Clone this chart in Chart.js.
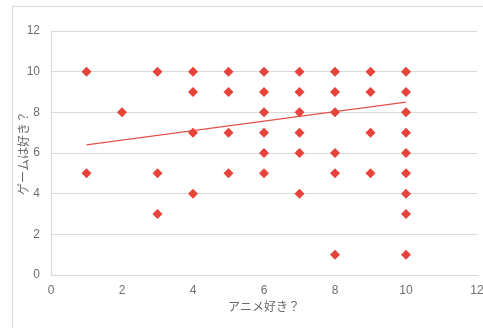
<!DOCTYPE html>
<html>
<head>
<meta charset="utf-8">
<script src="https://cdn.jsdelivr.net/npm/chart.js@4/dist/chart.umd.min.js"></script>
<style>
  html, body { margin: 0; padding: 0; background: #ffffff; }
  #wrap { position: relative; width: 483px; height: 328px; overflow: hidden; }
  #frame { position: absolute; left: 12px; top: 6px; width: 500px; height: 340px;
           border: 1px solid #d9d9d9; box-sizing: border-box; }
  #chart { position: absolute; left: 0; top: 0; }
</style>
</head>
<body>
<div id="wrap">
  <div id="frame"></div>
  <canvas id="chart" width="483" height="328"></canvas>
</div>
<script>
// Survey answers: how much each respondent likes anime (x) and games (y)
const animeScores = [1, 1, 2, 3, 3, 3, 4, 4, 4, 4, 5, 5, 5, 5,
                     6, 6, 6, 6, 6, 6, 7, 7, 7, 7, 7, 7,
                     8, 8, 8, 8, 8, 8, 9, 9, 9, 9,
                     10, 10, 10, 10, 10, 10, 10, 10, 10];
const gameScores  = [10, 5, 8, 10, 5, 3, 10, 9, 7, 4, 10, 9, 7, 5,
                     10, 9, 8, 7, 6, 5, 10, 9, 8, 7, 6, 4,
                     10, 9, 8, 6, 5, 1, 10, 9, 7, 5,
                     10, 9, 8, 7, 6, 5, 4, 3, 1];

// Linear trend line end points
const trendX = [1, 10];
const trendY = [6.4, 8.5];

const xTicks = [0, 2, 4, 6, 8, 10, 12];
const yTicks = [0, 2, 4, 6, 8, 10, 12];

const xTitle = 'アニメ好き？';
const yTitle = 'ゲームは好き？';

const points = animeScores.map((x, i) => ({ x: x, y: gameScores[i] }));
const trend = trendX.map((x, i) => ({ x: x, y: trendY[i] }));

const FONT = "'Liberation Sans', 'Noto Sans CJK JP', sans-serif";
const RED = '#e8433a';

new Chart(document.getElementById('chart'), {
  type: 'scatter',
  data: {
    datasets: [
      {
        data: points,
        pointStyle: 'rectRot',
        pointRadius: 5,
        pointHoverRadius: 5,
        backgroundColor: RED,
        borderColor: RED,
        borderWidth: 0,
        order: 1
      },
      {
        type: 'line',
        data: trend,
        borderColor: '#e3524a',
        borderWidth: 1.3,
        pointRadius: 0,
        fill: false,
        tension: 0,
        order: 2
      }
    ]
  },
  options: {
    responsive: false,
    animation: false,
    devicePixelRatio: 1,
    layout: { padding: { left: 12, top: 31, right: 6, bottom: 0 } },
    plugins: { legend: { display: false }, tooltip: { enabled: false } },
    scales: {
      x: {
        type: 'linear',
        min: 0, max: 12,
        afterBuildTicks: (s) => { s.ticks = xTicks.map(v => ({ value: v })); },
        afterFit: (s) => { s.height = 53; s.paddingLeft = 0; s.paddingRight = 0; },
        grid: { display: false, drawTicks: false },
        border: { display: true, color: '#d9d9d9', width: 1 },
        ticks: { padding: 8, color: '#6f6f6f', font: { family: FONT, size: 12 }, maxRotation: 0 },
        title: { display: true, text: xTitle, color: '#6a6a6a',
                 font: { family: FONT, size: 12 }, padding: { top: 0, bottom: 13 } }
      },
      y: {
        type: 'linear',
        min: 0, max: 12,
        afterBuildTicks: (s) => { s.ticks = yTicks.map(v => ({ value: v })); },
        afterFit: (s) => { s.width = 39; s.paddingTop = 0; s.paddingBottom = 0; },
        grid: { color: '#d9d9d9', lineWidth: 1, drawTicks: false },
        border: { display: true, color: '#d9d9d9', width: 1 },
        ticks: { padding: 11, color: '#6f6f6f', font: { family: FONT, size: 12 } },
        title: { display: true, text: yTitle, color: '#6a6a6a',
                 font: { family: FONT, size: 12 }, padding: { top: 5, bottom: 0 } }
      }
    }
  }
});
</script>
</body>
</html>
